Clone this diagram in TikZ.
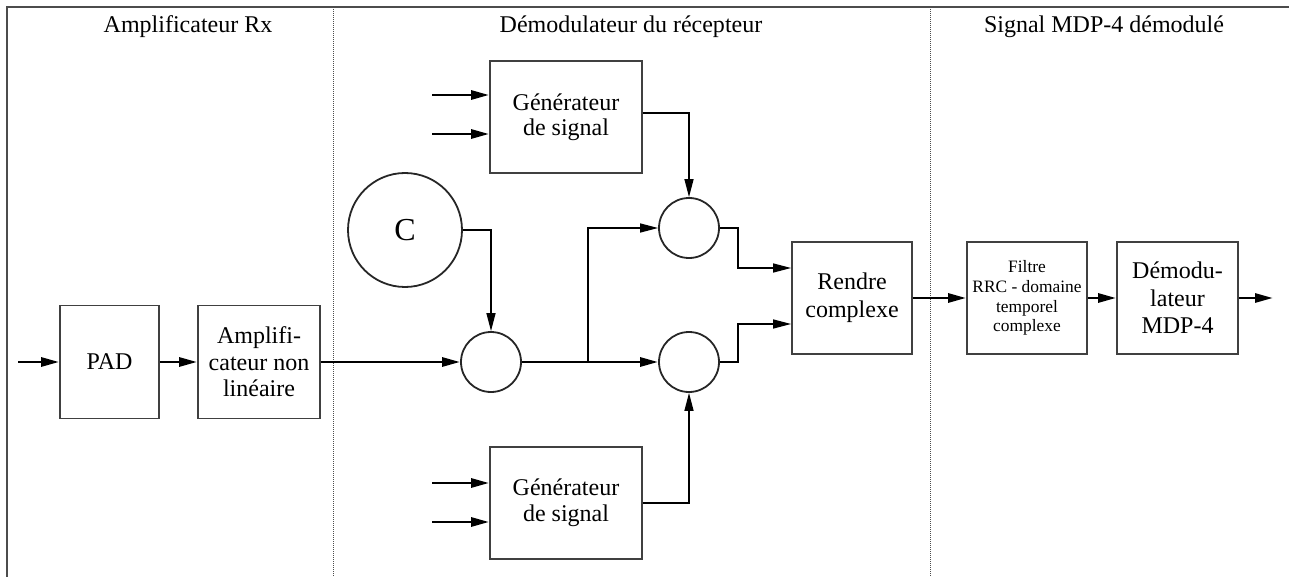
\documentclass[tikz,border=0pt]{standalone}
\usepackage{fontspec}
\setmainfont{Liberation Serif}
\usetikzlibrary{arrows.meta,calc}
\begin{document}
\begin{tikzpicture}[x=0.5pt,y=-0.5pt,
  box/.style={draw=black!75, line width=0.9pt, inner sep=0pt, align=center, font=\fontsize{12}{13.3}\selectfont},
  mix/.style={draw=black!85, line width=0.9pt, circle, minimum size=30pt, inner sep=0pt},
  thk/.style={line width=1.4pt, -{Triangle[length=9pt,width=4.5pt]}},
  thn/.style={line width=0.7pt, -{Triangle[length=9pt,width=4.5pt]}},
  frame/.style={draw=black!70, line width=1pt},
  sep/.style={draw=black!70, line width=0.5pt, dash pattern=on 0.5pt off 0.5pt},
  head/.style={anchor=base, font=\fontsize{12}{14}\selectfont, inner sep=0pt}]
\useasboundingbox (0,0) rectangle (1289,577);
% frame and separators
\draw[frame] (1289,7) -- (7,7) -- (7,577);
\draw[sep] (333,7) -- (333,577);
\draw[sep] (930,7) -- (930,577);
% headings
\node[head] (h1) at (188,33) {Amplificateur Rx};
\node[head] (h2) at (631,33) {Démodulateur du récepteur};
\node[head] (h3) at (1104,33) {Signal MDP-4 démodulé};
% boxes
\node[box, minimum width=49.5pt, minimum height=56.5pt] (pad) at (109.5,362) {PAD};
\node[box, minimum width=61pt, minimum height=56.5pt, font=\fontsize{12}{13.25}\selectfont] (amp) at (259,362) {Amplifi-\\cateur non\\linéaire};
\node[box, minimum width=76pt, minimum height=56pt, font=\fontsize{12}{12.6}\selectfont] (g1) at (566,117) {Générateur\\de signal};
\node[box, minimum width=76pt, minimum height=56pt, font=\fontsize{12}{12.8}\selectfont] (g2) at (566,503) {Générateur\\de signal};
\node[box, minimum width=60pt, minimum height=56pt, font=\fontsize{12}{14}\selectfont] (rc) at (852,298) {Rendre\\complexe};
\node[box, minimum width=60pt, minimum height=56pt, font=\fontsize{8.7}{9.9}\selectfont] (fi) at (1027,298) {Filtre\\RRC - domaine\\temporel\\complexe};
\node[box, minimum width=60.5pt, minimum height=56pt, font=\fontsize{12}{13.8}\selectfont] (dm) at (1177.5,298) {Démodu-\\lateur\\MDP-4};
% circles
\node[mix, minimum size=57pt, font=\fontsize{16}{18}\selectfont] (C) at (405,230) {C};
\node[mix] (m1) at (491,362) {};
\node[mix] (m2) at (689,228) {};
\node[mix] (m3) at (689,362) {};
% coordinates
\coordinate (pin) at (18,362);
\coordinate (br) at (588,362);
\coordinate (g1a) at (432,95);
\coordinate (g1b) at (432,134);
\coordinate (g2a) at (432,483);
\coordinate (g2b) at (432,522);
\coordinate (g1y) at (0,113);
\coordinate (g2y) at (0,503);
\coordinate (out) at (1273,298);
% connectors
\draw[thk] (pin) -- (pad);
\draw[thk] (pad) -- (amp);
\draw[thk] (amp) -- (m1);
\draw[thn] (C.east) -| (m1.north);
\draw[thk] (m1) -- (m3);
\draw[thn] (br) |- (m2.west);
\draw[thk] (g1a) -- (g1a -| g1.west);
\draw[thk] (g1b) -- (g1b -| g1.west);
\draw[thk] (g2a) -- (g2a -| g2.west);
\draw[thk] (g2b) -- (g2b -| g2.west);
\draw[thn] (g1.east |- g1y) -| (m2.north);
\draw[thn] (g2.east |- g2y) -| (m3.south);
\draw[thn] (m2.east) -- ++(18,0) |- ([yshift=15pt]rc.west);
\draw[thn] (m3.east) -- ++(18,0) |- ([yshift=-13pt]rc.west);
\draw[thk] (rc) -- (fi);
\draw[thk] (fi) -- (dm);
\draw[thk] (dm) -- (out);
\end{tikzpicture}
\end{document}
